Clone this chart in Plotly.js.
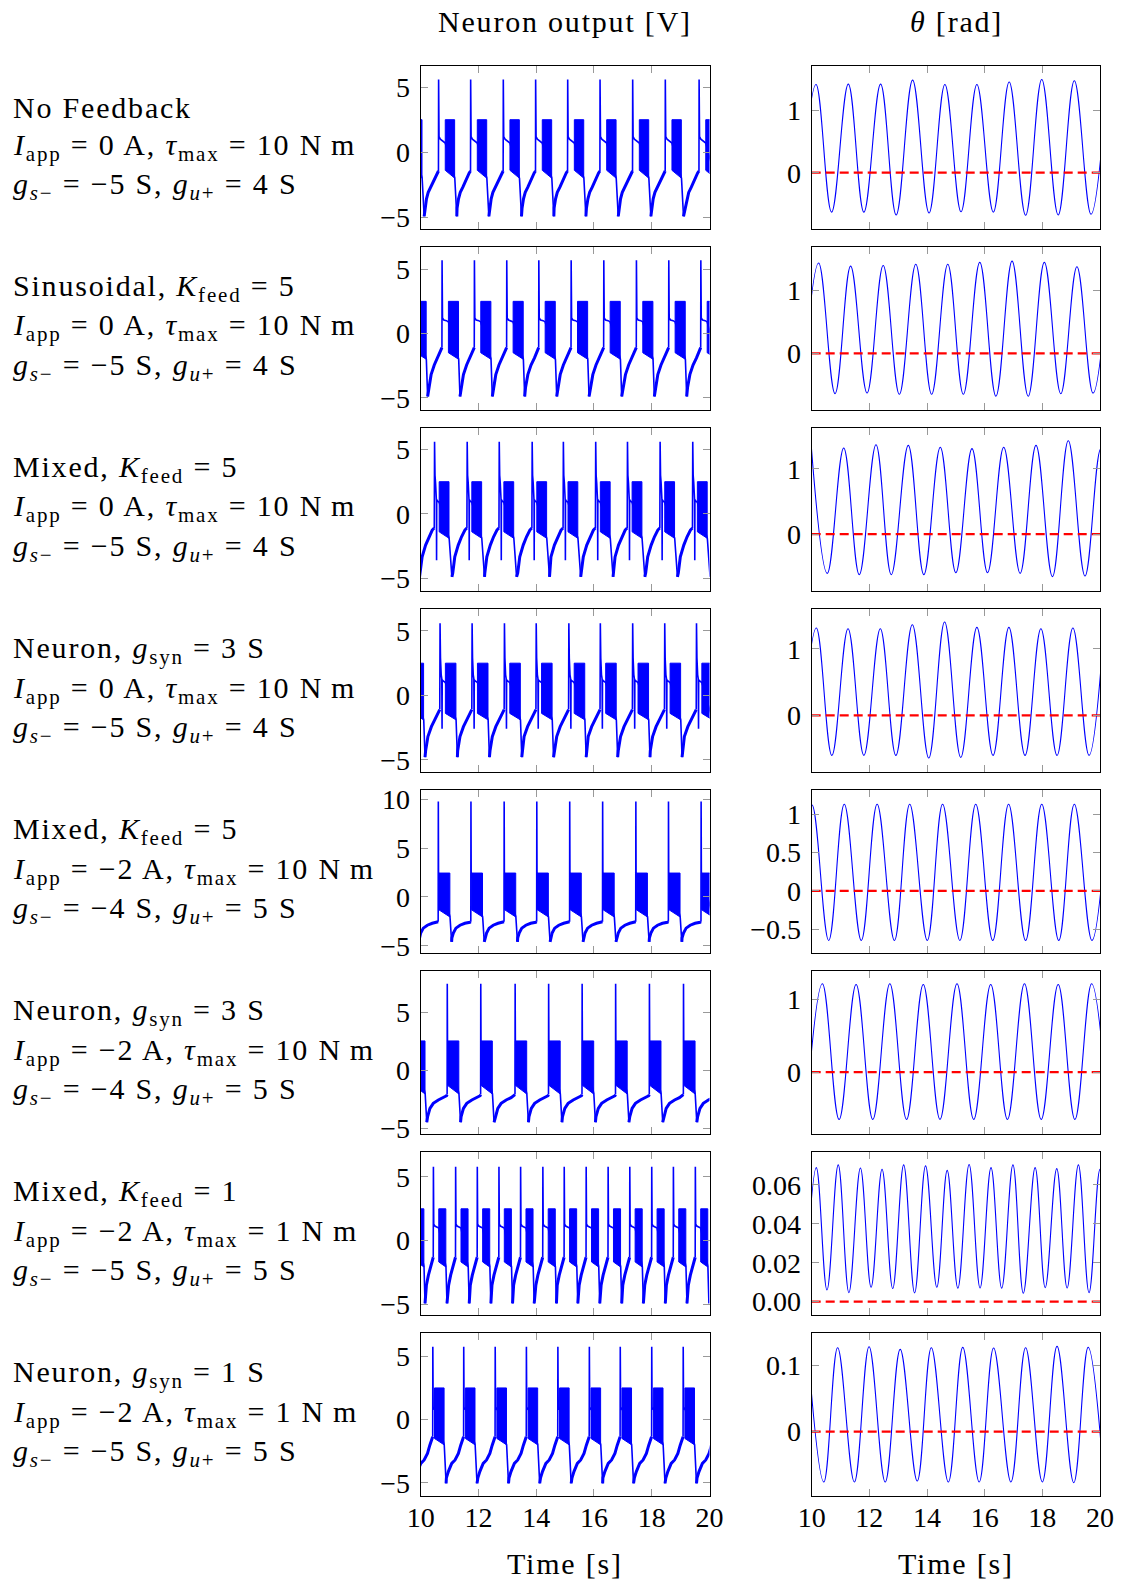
<!DOCTYPE html>
<html><head><meta charset="utf-8">
<script src="https://cdn.plot.ly/plotly-3.0.1.min.js"></script>
<style>html,body{margin:0;padding:0;background:#fff;}#chart{width:1122px;height:1582px;}
.annotation-text{letter-spacing:1.8px;}</style>
</head><body><div id="chart"></div>
<script>
// ================= DATA =================
const timeTicks = [10, 12, 14, 16, 18, 20];
const timeTickLabels = ['10', '12', '14', '16', '18', '20'];

const rowTitle = [
  'No Feedback',
  'Sinusoidal, <i>K</i><sub>feed</sub> = 5',
  'Mixed, <i>K</i><sub>feed</sub> = 5',
  'Neuron, <i>g</i><sub>syn</sub> = 3 S',
  'Mixed, <i>K</i><sub>feed</sub> = 5',
  'Neuron, <i>g</i><sub>syn</sub> = 3 S',
  'Mixed, <i>K</i><sub>feed</sub> = 1',
  'Neuron, <i>g</i><sub>syn</sub> = 1 S'
];
const rowIapp = ['0', '0', '0', '0', '\u22122', '\u22122', '\u22122', '\u22122'];
const rowTau = ['10', '10', '10', '10', '10', '10', '1', '1'];
const rowGs = ['\u22125', '\u22125', '\u22125', '\u22125', '\u22124', '\u22124', '\u22125', '\u22125'];
const rowGu = ['4', '4', '4', '4', '5', '5', '5', '5'];

// Neuron output: spike times (s); first entry is the spike just before t = 10 s
const spikeTimes = [
  [9.49, 10.62, 11.73, 12.86, 13.98, 15.09, 16.21, 17.34, 18.47, 19.64],
  [9.62, 10.74, 11.86, 12.98, 14.09, 15.21, 16.34, 17.47, 18.59, 19.70],
  [9.36, 10.48, 11.61, 12.72, 13.86, 14.94, 16.06, 17.16, 18.29, 19.42],
  [9.55, 10.67, 11.78, 12.90, 14.00, 15.13, 16.22, 17.34, 18.45, 19.55],
  [9.47, 10.61, 11.74, 12.89, 14.02, 15.16, 16.30, 17.45, 18.58, 19.71],
  [9.75, 10.92, 12.08, 13.27, 14.43, 15.59, 16.75, 17.92, 19.10, 20.27],
  [9.68, 10.44, 11.21, 11.96, 12.71, 13.46, 14.23, 14.97, 15.73, 16.49, 17.24, 18.00, 18.75, 19.51],
  [9.34, 10.42, 11.49, 12.58, 13.66, 14.75, 15.84, 16.91, 18.00, 19.09, 20.17]
];
// shape after each spike: offset from the spike (s) and voltage (V)
const postDt = [
  [0, 0.015, 0.06, 0.15, 0.23, 0.56, 0.63],
  [0, 0.015, 0.06, 0.15, 0.22, 0.575, 0.62],
  [0, 0.015, 0.035, 0.05, 0.065, 0.07, 0.075, 0.1, 0.16, 0.505, 0.60],
  [0, 0.015, 0.04, 0.06, 0.07, 0.075, 0.12, 0.185, 0.555, 0.60],
  [0, 0.008, 0.405, 0.46],
  [0, 0.008, 0.405, 0.46],
  [0, 0.012, 0.05, 0.185, 0.435, 0.47],
  [0, 0.012, 0.058, 0.395, 0.46]
];
const postV = [
  [5.6, 1.2, 1.0, 0.85, 0.7, -2.0, -4.95],
  [5.7, 1.2, 1.05, 1.0, 0.9, -2.0, -4.9],
  [5.6, 3.0, 2.4, 1.2, 1.0, -3.6, 1.1, 1.0, 0.9, -1.9, -4.9],
  [5.6, 2.9, 1.6, 1.3, -2.6, 1.2, 1.1, 1.0, -1.9, -4.8],
  [9.8, 2.5, -2.05, -4.6],
  [7.5, 2.55, -2.05, -4.5],
  [5.8, 1.3, 1.15, 1.0, -2.06, -4.92],
  [5.75, 0.8, 0.9, -2.0, -5.05]
];
// slow ramp before each spike: offset from the next spike (s) and voltage (V)
const preDt = [
  [-0.47, -0.42, -0.36, -0.27, -0.16, -0.05, -0.005],
  [-0.46, -0.38, -0.27, -0.15, -0.035, -0.005],
  [-0.5, -0.43, -0.31, -0.196, -0.08, -0.01],
  [-0.5, -0.42, -0.30, -0.185, -0.046, -0.01],
  [-0.66, -0.61, -0.52, -0.38, -0.21, -0.035, -0.005],
  [-0.68, -0.60, -0.485, -0.31, -0.14, -0.023, -0.005],
  [-0.27, -0.243, -0.173, -0.104, -0.035, -0.005],
  [-0.60, -0.53, -0.416, -0.30, -0.185, -0.104, -0.035, -0.005]
];
const preV = [
  [-4.3, -3.6, -3.1, -2.7, -2.1, -1.6, -1.45],
  [-4.2, -3.2, -2.45, -1.9, -1.25, -1.1],
  [-4.6, -3.35, -2.43, -1.78, -1.26, -1.1],
  [-4.3, -3.2, -2.43, -1.9, -1.26, -1.1],
  [-4.2, -3.7, -3.2, -2.9, -2.7, -2.6, -2.55],
  [-4.0, -3.3, -2.86, -2.57, -2.37, -2.2, -2.1],
  [-4.3, -3.5, -2.7, -2.06, -1.54, -1.3],
  [-4.6, -4.1, -3.47, -3.2, -2.68, -2.03, -1.5, -1.37]
];
// fast burst envelope: start & end offset from spike (s), top, bottom at start, bottom at end (V)
const burstStart = [0.23, 0.22, 0.16, 0.185, 0.008, 0.008, 0.185, 0.058];
const burstEnd = [0.555, 0.57, 0.50, 0.55, 0.40, 0.40, 0.43, 0.39];
const burstTop = [2.5, 2.5, 2.5, 2.5, 2.45, 2.55, 2.5, 2.5];
const burstBotStart = [-1.4, -1.5, -1.4, -1.4, -1.3, -1.3, -1.67, -1.5];
const burstBotEnd = [-2.0, -2.0, -1.9, -1.9, -2.05, -2.05, -2.06, -2.0];

// theta: successive extrema (time s, angle rad), one extra outside each end
const thetaT = [
  [9.59, 10.15, 10.69, 11.27, 11.81, 12.39, 12.93, 13.50, 14.07, 14.62, 15.18, 15.73, 16.30, 16.85, 17.42, 17.98, 18.55, 19.11, 19.69, 20.25],
  [9.68, 10.24, 10.81, 11.35, 11.92, 12.48, 13.04, 13.61, 14.16, 14.72, 15.26, 15.83, 16.39, 16.95, 17.51, 18.07, 18.64, 19.20, 19.76, 20.32],
  [9.99, 10.54, 11.11, 11.65, 12.23, 12.76, 13.35, 13.89, 14.46, 15.00, 15.56, 16.10, 16.66, 17.23, 17.78, 18.35, 18.90, 19.48, 20.03, 20.60],
  [9.61, 10.16, 10.70, 11.26, 11.81, 12.38, 12.92, 13.49, 14.06, 14.61, 15.17, 15.73, 16.29, 16.84, 17.40, 17.95, 18.51, 19.06, 19.62, 20.14],
  [9.44, 10.01, 10.59, 11.13, 11.72, 12.27, 12.87, 13.40, 14.01, 14.54, 15.14, 15.69, 16.28, 16.83, 17.42, 17.98, 18.57, 19.11, 19.72, 20.28],
  [9.79, 10.37, 10.95, 11.54, 12.12, 12.71, 13.29, 13.87, 14.45, 15.04, 15.62, 16.21, 16.79, 17.38, 17.96, 18.55, 19.13, 19.71, 20.29],
  [9.78, 10.16, 10.53, 10.92, 11.29, 11.69, 12.06, 12.44, 12.81, 13.19, 13.57, 13.95, 14.34, 14.70, 15.07, 15.46, 15.84, 16.22, 16.59, 16.98, 17.34, 17.75, 18.10, 18.50, 18.86, 19.25, 19.62, 20.00, 20.38],
  [9.86, 10.42, 10.90, 11.48, 11.99, 12.55, 13.07, 13.66, 14.15, 14.74, 15.24, 15.81, 16.31, 16.91, 17.42, 18.00, 18.51, 19.09, 19.59, 20.14]
];
const thetaV = [
  [-0.65, 1.41, -0.63, 1.415, -0.63, 1.415, -0.676, 1.48, -0.644, 1.41, -0.624, 1.41, -0.63, 1.45, -0.68, 1.49, -0.676, 1.47, -0.665, 1.45],
  [-0.64, 1.44, -0.64, 1.39, -0.63, 1.40, -0.65, 1.42, -0.65, 1.42, -0.65, 1.45, -0.68, 1.47, -0.68, 1.45, -0.64, 1.38, -0.63, 1.40],
  [1.32, -0.60, 1.32, -0.62, 1.37, -0.62, 1.36, -0.62, 1.33, -0.59, 1.31, -0.59, 1.33, -0.60, 1.36, -0.65, 1.43, -0.64, 1.31, -0.60],
  [-0.60, 1.31, -0.60, 1.30, -0.60, 1.30, -0.60, 1.36, -0.64, 1.40, -0.63, 1.32, -0.60, 1.32, -0.60, 1.30, -0.60, 1.31, -0.60, 1.31],
  [-0.646, 1.12, -0.646, 1.13, -0.646, 1.13, -0.646, 1.13, -0.646, 1.13, -0.646, 1.13, -0.646, 1.13, -0.646, 1.13, -0.646, 1.13, -0.646, 1.13],
  [-0.65, 1.21, -0.65, 1.20, -0.65, 1.21, -0.65, 1.20, -0.65, 1.21, -0.65, 1.20, -0.65, 1.21, -0.65, 1.20, -0.65, 1.21, -0.65],
  [0.006, 0.0689, 0.0060, 0.0703, 0.0046, 0.0687, 0.0074, 0.0681, 0.0067, 0.0703, 0.0045, 0.0698, 0.0074, 0.0675, 0.0069, 0.0705, 0.0070, 0.0689, 0.0069, 0.0703, 0.0043, 0.0689, 0.0072, 0.0684, 0.0070, 0.0703, 0.0046, 0.0680, 0.0060],
  [0.126, -0.0755, 0.126, -0.0755, 0.1275, -0.0755, 0.1235, -0.074, 0.126, -0.0755, 0.1265, -0.0755, 0.1255, -0.0755, 0.126, -0.0755, 0.128, -0.0765, 0.1265, -0.0755]
];
const thetaReference = 0;

// axis ranges and ticks
const voltRange = [[-5.92, 6.66], [-5.95, 6.75], [-6.0, 6.7], [-5.95, 6.73], [-5.75, 11.0], [-5.52, 8.64], [-5.83, 6.98], [-6.05, 6.87]];
const voltTicks = [[-5, 0, 5], [-5, 0, 5], [-5, 0, 5], [-5, 0, 5], [-5, 0, 5, 10], [-5, 0, 5], [-5, 0, 5], [-5, 0, 5]];
const voltTickText = [['\u22125', '0', '5'], ['\u22125', '0', '5'], ['\u22125', '0', '5'], ['\u22125', '0', '5'], ['\u22125', '0', '5', '10'], ['\u22125', '0', '5'], ['\u22125', '0', '5'], ['\u22125', '0', '5']];
const thetaRange = [[-0.9, 1.71], [-0.9, 1.70], [-0.87, 1.63], [-0.85, 1.60], [-0.81, 1.32], [-0.85, 1.39], [-0.0069, 0.0771], [-0.0965, 0.1485]];
const thetaTicks = [[0, 1], [0, 1], [0, 1], [0, 1], [-0.5, 0, 0.5, 1], [0, 1], [0, 0.02, 0.04, 0.06], [0, 0.1]];
const thetaTickText = [['0', '1'], ['0', '1'], ['0', '1'], ['0', '1'], ['\u22120.5', '0', '0.5', '1'], ['0', '1'], ['0.00', '0.02', '0.04', '0.06'], ['0', '0.1']];

// ================= BUILD =================
const FONT = '"Liberation Serif", "DejaVu Serif", serif';
const W = 1122, H = 1582;
const leftPx = [420.7, 709.5], rightPx = [811.7, 1100];
const top0 = 65.7, step = 181, panelH = 163.3;
const BLUE = 'rgb(0,0,255)';

function neuronParts(r) {
  const sp = spikeTimes[r], pd = postDt[r], pv = postV[r], qd = preDt[r], qv = preV[r];
  const ramp = {x: [], y: []}, fast = {x: [], y: []};
  for (let k = 0; k < sp.length; k++) {
    const s = sp[k];
    const lastTrough = k > 0 ? sp[k - 1] + pd[pd.length - 1] : -Infinity;
    if (k > 0) { ramp.x.push(lastTrough); ramp.y.push(pv[pv.length - 1]); }
    for (let j = 0; j < qd.length; j++) {
      if (s + qd[j] > lastTrough) { ramp.x.push(s + qd[j]); ramp.y.push(qv[j]); }
    }
    ramp.x.push(null); ramp.y.push(null);
    fast.x.push(s + qd[qd.length - 1]); fast.y.push(qv[qv.length - 1]);
    for (let j = 0; j < pd.length; j++) { fast.x.push(s + pd[j]); fast.y.push(pv[j]); }
    fast.x.push(null); fast.y.push(null);
  }
  return {ramp, fast};
}
function bursts(r) {
  const x = [], y = [];
  spikeTimes[r].forEach(s => {
    const a = s + burstStart[r], b = s + burstEnd[r];
    x.push(a, b, b, a, a, null);
    y.push(burstTop[r], burstTop[r], burstBotEnd[r], burstBotStart[r], burstTop[r], null);
  });
  return {x, y};
}

const traces = [];
const layout = {
  width: W, height: H, margin: {l: 0, r: 0, t: 0, b: 0, pad: 0},
  paper_bgcolor: 'white', plot_bgcolor: 'white', showlegend: false,
  font: {family: FONT, size: 28, color: 'black'}, annotations: []
};
const axBase = {
  showgrid: false, zeroline: false, showline: true, linecolor: 'black', linewidth: 1,
  mirror: 'allticks', ticks: 'inside', ticklen: 7, tickwidth: 1, tickcolor: '#999999',
  tickfont: {family: FONT, size: 28, color: 'black'}, fixedrange: true
};
const sfx = i => (i === 1 ? '' : String(i));

for (let r = 0; r < 8; r++) {
  const top = top0 + step * r, bot = top + panelH;
  const yd = [1 - bot / H, 1 - top / H];
  const li = 2 * r + 1, ri = 2 * r + 2;

  layout['xaxis' + sfx(li)] = Object.assign({}, axBase, {domain: [leftPx[0] / W, leftPx[1] / W], range: [10, 20],
    tickmode: 'array', tickvals: timeTicks, ticktext: timeTickLabels, showticklabels: r === 7, anchor: 'y' + sfx(li), ticklabelstandoff: -4});
  layout['yaxis' + sfx(li)] = Object.assign({}, axBase, {domain: yd, range: voltRange[r],
    tickmode: 'array', tickvals: voltTicks[r], ticktext: voltTickText[r], anchor: 'x' + sfx(li), ticklabelstandoff: 4});
  layout['xaxis' + sfx(ri)] = Object.assign({}, axBase, {domain: [rightPx[0] / W, rightPx[1] / W], range: [10, 20],
    tickmode: 'array', tickvals: timeTicks, ticktext: timeTickLabels, showticklabels: r === 7, anchor: 'y' + sfx(ri), ticklabelstandoff: -4});
  layout['yaxis' + sfx(ri)] = Object.assign({}, axBase, {domain: yd, range: thetaRange[r],
    tickmode: 'array', tickvals: thetaTicks[r], ticktext: thetaTickText[r], anchor: 'x' + sfx(ri), ticklabelstandoff: 4});

  const xa = 'x' + sfx(li), ya = 'y' + sfx(li);
  const bl = bursts(r);
  traces.push({type: 'scatter', mode: 'lines', x: bl.x, y: bl.y, fill: 'toself', fillcolor: BLUE,
    line: {color: BLUE, width: 1}, xaxis: xa, yaxis: ya, hoverinfo: 'skip'});
  const parts = neuronParts(r);
  traces.push({type: 'scatter', mode: 'lines', x: parts.ramp.x, y: parts.ramp.y, connectgaps: false,
    line: {color: BLUE, width: 3}, xaxis: xa, yaxis: ya, hoverinfo: 'skip'});
  traces.push({type: 'scatter', mode: 'lines', x: parts.fast.x, y: parts.fast.y, connectgaps: false,
    line: {color: BLUE, width: 1.6}, xaxis: xa, yaxis: ya, hoverinfo: 'skip'});

  traces.push({type: 'scatter', mode: 'lines', x: thetaT[r], y: thetaV[r],
    line: {color: BLUE, width: 1.1, shape: 'spline', smoothing: 1.1},
    xaxis: 'x' + sfx(ri), yaxis: 'y' + sfx(ri), hoverinfo: 'skip'});
  traces.push({type: 'scatter', mode: 'lines', x: [timeTicks[0], timeTicks[timeTicks.length - 1]], y: [thetaReference, thetaReference],
    line: {color: 'rgb(255,0,0)', width: 2.2, dash: '9px,5px'},
    xaxis: 'x' + sfx(ri), yaxis: 'y' + sfx(ri), hoverinfo: 'skip'});

  const lines = [
    rowTitle[r],
    '<i>I</i><sub>app</sub> = ' + rowIapp[r] + ' A, <i>\u03c4</i><sub>max</sub> = ' + rowTau[r] + ' N\u2009m',
    '<i>g</i><sub><i>s</i>\u2212</sub> = ' + rowGs[r] + ' S, <i>g</i><sub><i>u</i>+</sub> = ' + rowGu[r] + ' S'
  ];
  const yc = [107 + step * r, 146.5 + step * r, 186 + step * r];
  lines.forEach((t, i) => layout.annotations.push({xref: 'paper', yref: 'paper', x: 11 / W, y: 1 - yc[i] / H,
    xanchor: 'left', yanchor: 'middle', showarrow: false, text: t, font: {family: FONT, size: 30, color: 'black'}}));
}

const titleAnn = (txt, xc, yc) => ({xref: 'paper', yref: 'paper', x: xc / W, y: 1 - yc / H, xanchor: 'center', yanchor: 'middle',
  showarrow: false, text: txt, font: {family: FONT, size: 30, color: 'black'}});
layout.annotations.push(titleAnn('Neuron output [V]', 565, 21));
layout.annotations.push(titleAnn('<i>\u03b8</i> [rad]', 956, 21));
layout.annotations.push(titleAnn('Time [s]', 565, 1563));
layout.annotations.push(titleAnn('Time [s]', 956, 1563));

Plotly.newPlot('chart', traces, layout, {staticPlot: true, displayModeBar: false});
</script>
</body></html>
